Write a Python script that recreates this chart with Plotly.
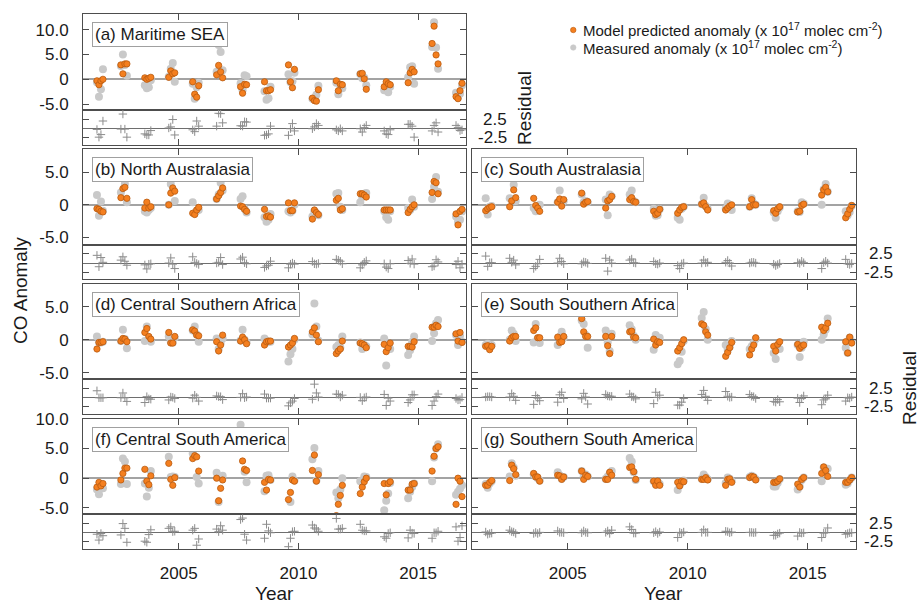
import plotly.graph_objects as go

# ---------------- data ----------------
years = list(range(2001, 2017))
months = [8, 9, 10, 11]          # Aug-Nov
x_ticks = [2005, 2010, 2015]
main_tickvals = [-5, 0, 5, 10]
main_ticktext = ["-5.0", "0", "5.0", "10.0"]
resid_tickvals = [-2.5, 2.5]
resid_ticktext = ["-2.5", "2.5"]

titles = ["(a) Maritime SEA", "(b) North Australasia", "(c) South Australasia",
          "(d) Central Southern Africa", "(e) South Southern Africa",
          "(f) Central South America", "(g) Southern South America"]
legend_labels = ["Model predicted anomaly (x 10<sup>17</sup> molec cm<sup>-2</sup>)",
                 "Measured anomaly (x 10<sup>17</sup> molec cm<sup>-2</sup>)"]

# model predicted anomaly, one row per year (Aug, Sep, Oct, Nov)
a_model = [[-0.3,-1.1,-0.3,0.0],[2.9,1.1,3.1,3.1],[0.3,0.0,0.2,0.4],[0.4,1.7,1.1,1.3],
           [-0.5,-3.0,-3.6,-1.3],[0.9,2.8,1.5,0.3],[-1.5,-2.8,-1.0,-1.1],[-0.5,-2.3,-2.3,-2.1],
           [2.9,-0.5,-1.7,2.0],[-3.8,-4.3,-4.4,-2.1],[-0.3,-2.3,-1.0,-1.1],[1.1,1.2,0.1,-2.0],
           [-1.5,-0.5,-0.9,-1.1],[-0.7,1.3,2.0,1.5],[7.2,10.7,4.9,3.1],[-3.5,-3.9,-2.3,-0.8]]
a_meas = [[-0.6,-3.5,-2.0,2.0],[2.7,5.0,2.9,0.7],[-1.2,-1.8,-1.6,-0.2],[0.5,2.1,3.3,-0.5],
          [-0.9,-3.9,-1.6,-0.7],[1.5,6.9,5.5,1.8],[-0.8,-2.2,0.8,0.6],[-2.4,-4.1,-3.8,-1.5],
          [1.0,-0.6,-0.4,1.3],[-3.9,-3.9,-3.1,-1.3],[-0.7,-3.0,-1.1,-1.8],[1.0,0.2,0.3,-1.2],
          [-2.2,-2.0,-2.6,-1.5],[0.4,2.4,2.6,-0.9],[6.5,11.5,6.4,2.1],[-2.7,-3.7,-2.9,-1.2]]
a_resid = [[-0.3,-2.4,-1.7,2.0],[-0.2,3.9,-0.2,-2.4],[-1.5,-1.8,-1.8,-0.6],[0.1,0.4,2.4,-1.8],
           [-0.4,-0.9,2.0,0.6],[0.6,4.1,4.0,1.5],[0.7,0.6,1.8,1.7],[-1.9,-1.8,-1.5,0.6],
           [-1.9,-0.1,1.3,-0.7],[-0.1,0.4,1.3,0.8],[-0.4,-0.7,-0.1,-0.7],[-0.1,-1.0,0.2,0.8],
           [-0.7,-1.5,-1.7,-0.4],[1.1,1.1,0.6,-2.4],[-0.7,0.8,1.5,-1.0],[0.8,0.2,-0.6,-0.4]]

b_model = [[-0.6,-0.7,-1.0,-1.1],[1.1,2.5,2.7,1.0],[-0.5,0.4,-0.5,-0.3],[0.0,1.8,2.6,2.1],
           [-1.3,-1.5,-0.8,-0.4],[0.9,1.4,1.9,2.6],[-0.2,-0.3,-0.7,-1.0],[-0.7,-1.8,-1.7,-1.9],
           [0.3,-0.9,-0.9,0.3],[-2.2,-0.8,-1.2,-1.5],[0.7,1.0,-0.8,-0.6],[1.7,1.7,1.5,1.2],
           [-0.8,-0.8,-0.8,-0.8],[-1.2,-0.7,-0.3,0.0],[1.9,3.6,3.4,1.7],[-1.4,-3.1,-1.0,-0.7]]
b_meas = [[1.5,-1.7,0.5,-0.9],[1.9,4.2,3.2,0.4],[-1.0,-1.2,-0.8,-0.5],[0.0,3.2,2.3,0.6],
          [0.4,-1.3,-0.9,-0.8],[0.9,1.6,3.4,2.2],[0.9,1.3,-0.6,-1.2],[-1.9,-2.6,-2.3,-1.4],
          [-1.0,-1.2,-0.9,0.0],[-1.8,-1.0,-1.5,-1.6],[1.7,1.8,-0.3,-0.8],[0.4,1.2,1.7,1.8],
          [-1.0,-1.9,-2.3,-1.0],[-0.5,-0.8,0.8,-0.3],[0.9,2.8,4.3,2.0],[-1.8,-2.6,-2.3,-1.0]]
b_resid = [[2.1,-1.0,1.5,0.2],[0.8,1.7,0.5,-0.6],[-0.5,-1.6,-0.3,-0.2],[0.0,1.4,-0.3,-1.5],
           [1.7,0.2,-0.1,-0.4],[0.0,0.2,1.5,-0.4],[1.1,1.6,0.1,-0.2],[-1.2,-0.8,-0.6,0.5],
           [-1.3,-0.3,0.0,-0.3],[0.4,-0.2,-0.3,-0.1],[1.0,0.8,0.5,-0.2],[-1.3,-0.5,0.2,0.6],
           [-0.2,-1.1,-1.5,-0.2],[0.7,-0.1,1.1,-0.3],[-1.0,-0.8,0.9,0.3],[-0.4,0.5,-1.3,-0.3]]

c_model = [[-0.9,-0.6,-0.4,-0.3],[-0.3,0.6,2.3,1.1],[1.0,-0.1,-0.5,-1.0],[0.4,0.9,-0.2,0.8],
           [1.8,0.1,0.4,0.5],[-0.5,0.6,0.8,1.3],[0.8,1.1,0.5,0.4],[-1.0,-1.5,-1.3,-0.7],
           [-1.3,-0.8,-0.4,-0.3],[0.1,0.3,-0.3,-0.8],[-0.8,-0.5,-0.2,0.0],[-0.3,0.8,0.0,0.0],
           [-0.9,-1.3,-0.6,-0.3],[-1.1,-1.0,-0.1,0.1],[1.5,2.3,2.7,2.0],[-2.0,-1.4,-0.7,-0.1]]
c_meas = [[1.0,-1.5,-0.3,-0.2],[1.0,0.8,3.1,0.6],[-0.5,-1.0,-0.7,0.0],[0.4,2.2,0.2,0.6],
          [1.6,0.4,0.6,0.4],[0.8,-1.6,1.6,1.3],[1.6,2.2,0.6,0.4],[-0.6,-1.7,-1.6,-0.7],
          [-2.0,-2.3,-0.6,-0.3],[0.1,1.1,-0.2,-0.6],[-0.6,0.2,-0.2,-0.8],[-0.3,1.0,0.2,0.0],
          [-1.2,-2.0,-1.0,-0.4],[-1.0,-1.1,0.4,0.2],[0.0,2.4,3.2,2.0],[-1.0,-1.6,-1.1,-0.2]]
c_resid = [[1.9,-0.9,0.1,0.1],[1.3,0.2,0.8,-0.5],[-1.5,-0.9,-0.2,1.0],[0.0,1.3,0.4,-0.2],
           [-0.2,0.3,0.2,-0.1],[1.3,-2.2,0.8,0.0],[0.8,1.1,0.1,0.0],[0.4,-0.2,-0.3,0.0],
           [-0.7,-1.5,-0.2,0.0],[0.0,0.8,0.1,0.2],[0.2,0.7,0.0,-0.8],[0.0,0.2,0.2,0.0],
           [-0.3,-0.7,-0.4,-0.1],[0.1,-0.1,0.5,0.1],[-1.5,0.1,0.5,0.0],[1.0,-0.2,-0.4,-0.1]]

d_model = [[-1.4,-0.4,-0.4,-0.3],[-0.2,0.2,0.1,-0.3],[1.1,1.7,0.5,0.1],[1.1,-0.5,-0.5,0.5],
           [1.5,1.3,0.7,0.6],[-0.3,-1.7,-0.8,0.7],[-0.2,0.4,0.0,-0.6],[-0.8,-0.3,-0.2,-0.2],
           [-1.1,-0.8,-0.5,0.2],[1.2,1.8,0.7,-0.3],[-2.1,-1.7,-1.4,-0.2],[-0.5,-0.6,-0.8,-1.2],
           [-0.7,-1.8,-1.2,-0.5],[-1.0,-1.0,-1.1,-0.3],[1.9,1.9,2.2,2.0],[0.9,-0.2,1.1,-0.4]]
d_meas = [[0.5,-0.4,-0.4,-0.3],[-0.2,1.5,0.1,-1.3],[-0.2,2.0,0.2,-0.3],[0.5,-0.3,-0.4,0.3],
          [1.4,2.0,0.8,-0.3],[0.2,-1.4,-0.5,0.2],[-0.1,1.5,0.0,-0.4],[0.2,-0.4,-0.3,-0.3],
          [-3.3,-2.2,-1.4,0.0],[0.8,5.5,2.0,-0.1],[-1.1,-0.8,-1.2,0.5],[-0.4,-1.4,-0.8,-1.0],
          [0.2,-3.9,-1.3,-1.4],[-2.3,-1.6,-0.3,0.5],[-0.2,1.0,2.5,3.0],[0.7,-0.8,0.6,-0.3]]
d_resid = [[1.9,0.0,0.0,0.0],[0.0,1.3,0.0,-1.0],[-1.3,0.3,-0.3,-0.4],[-0.6,0.2,0.1,-0.2],
           [-0.1,0.7,0.1,-0.9],[0.5,0.3,0.3,-0.5],[0.1,1.1,0.0,0.2],[1.0,-0.1,-0.1,-0.1],
           [-2.2,-1.4,-0.9,-0.2],[-0.4,3.7,1.3,0.2],[1.0,0.9,0.2,0.7],[0.1,-0.8,0.0,0.2],
           [0.9,-2.1,-0.1,-0.9],[-1.3,-0.6,0.8,0.8],[-2.1,-0.9,0.3,1.0],[-0.2,-0.6,-0.5,0.1]]

e_model = [[-1.0,-0.9,-1.5,-1.0],[-0.2,0.3,0.5,0.5],[1.4,1.8,0.3,0.3],[0.4,-0.4,-0.3,0.5],
           [3.2,1.2,0.5,0.5],[0.5,-0.9,-2.1,0.5],[1.2,1.3,0.4,0.3],[0.1,-0.8,-0.3,-0.4],
           [-1.7,-1.2,-0.6,0.0],[2.4,2.2,1.2,0.7],[-2.5,-1.9,-1.2,-0.4],[-2.3,-1.4,-0.8,0.3],
           [-1.0,-1.7,-0.7,-0.3],[-0.7,-1.3,-1.0,-0.8],[1.9,1.4,1.8,2.5],[-0.3,-2.0,0.4,-0.5]]
e_meas = [[-0.8,-0.6,-1.2,-0.8],[0.0,1.4,0.9,-0.2],[-0.4,2.4,0.2,-0.5],[-0.8,0.4,1.2,0.3],
          [2.9,2.4,0.7,-1.2],[1.4,-0.4,-1.7,0.9],[2.2,1.6,0.6,0.0],[-1.5,0.7,-0.2,0.3],
          [-3.7,-3.2,-1.8,-0.2],[3.3,4.2,1.6,0.0],[-0.8,-1.5,-1.1,-0.2],[-1.4,-1.0,-0.5,0.1],
          [-2.0,-2.9,-1.2,-1.4],[-0.8,-2.6,-1.2,-0.3],[0.0,0.8,1.5,3.2],[-1.2,-2.0,0.3,-0.3]]
e_resid = [[0.2,0.3,0.3,0.2],[0.2,1.1,0.4,-0.7],[-1.8,0.6,-0.1,-0.8],[-1.2,0.8,1.5,-0.2],
           [-0.3,1.2,0.2,-1.7],[0.9,0.5,0.4,0.4],[1.0,0.3,0.2,-0.3],[-1.6,1.5,0.1,0.7],
           [-2.0,-2.0,-1.2,-0.2],[0.9,2.0,0.4,-0.7],[1.7,0.4,0.1,0.2],[0.9,0.4,0.3,-0.2],
           [-1.0,-1.2,-0.5,-1.1],[-0.1,-1.3,-0.2,0.5],[-1.9,-0.6,-0.3,0.7],[-0.9,0.0,-0.1,0.2]]

f_model = [[-1.5,-0.7,-1.3,-0.9],[-0.3,0.8,1.7,1.7],[1.5,-0.5,-1.1,0.4],[2.5,-0.2,-1.2,0.1],
           [3.3,3.8,3.6,1.2],[0.0,-3.8,-1.7,-0.3],[5.4,2.9,1.5,1.3],[-0.7,-2.0,-0.2,-0.3],
           [-3.6,-2.4,-0.3,-0.5],[1.3,3.9,-0.5,0.6],[-6.3,-4.4,-2.9,-1.2],[-2.6,-1.5,-0.6,0.0],
           [-0.9,-2.8,-0.9,-0.6],[-2.0,-2.0,-1.0,-0.9],[1.2,3.7,5.0,5.3],[-4.4,0.0,-0.5,-3.1]]
f_meas = [[-1.9,-2.7,-1.5,-1.7],[-1.0,3.3,2.8,-1.0],[-0.9,-3.1,-1.6,1.2],[3.6,0.2,0.3,0.2],
          [4.2,5.1,0.2,-0.9],[0.9,-4.0,0.2,0.4],[9.0,6.9,1.1,-0.7],[-2.2,0.4,0.5,-0.3],
          [-7.4,-4.0,0.3,-0.4],[3.2,5.1,-0.4,1.2],[-2.4,-3.4,-1.9,0.0],[-0.5,-0.8,0.3,0.2],
          [-5.4,-3.8,-2.6,-0.8],[-3.4,-2.3,-1.5,-0.9],[-0.5,3.5,5.0,5.7],[-2.8,-2.3,-1.8,-1.2]]
f_resid = [[-0.4,-2.0,-0.2,-0.8],[-0.6,2.5,1.2,-2.6],[-2.3,-2.6,-0.5,0.8],[1.2,1.6,0.3,0.4],
           [0.7,1.2,-3.4,-1.7],[1.0,0.3,1.9,0.7],[3.6,4.0,-0.4,-2.0],[-1.5,2.3,0.5,0.0],
           [-3.8,-1.5,0.3,0.4],[2.1,1.3,1.0,0.4],[3.9,1.0,1.0,1.2],[2.3,0.7,0.5,0.5],
           [-1.1,-1.5,-0.2,0.0],[-1.4,0.7,-0.1,-0.2],[-1.5,0.0,0.0,0.4],[1.6,-2.3,-1.3,1.9]]

g_model = [[-1.2,-1.2,-0.7,-0.4],[-0.4,2.2,1.6,0.6],[0.8,0.2,0.2,-0.5],[0.5,0.4,-0.2,0.2],
           [1.2,-0.2,0.5,0.3],[-0.2,-0.2,1.0,0.5],[1.8,1.9,1.1,-0.2],[-0.5,-1.2,-0.5,-1.2],
           [-0.7,-1.3,-0.5,-0.6],[-0.2,-0.2,0.1,-0.3],[-1.2,-0.2,-0.1,-0.7],[0.1,0.3,0.2,-0.3],
           [-0.7,-0.7,-0.5,-0.1],[-1.0,-1.5,-0.2,0.1],[0.8,1.9,1.3,0.3],[-0.7,-0.7,-0.3,0.1]]
g_meas = [[-1.0,-1.6,-0.9,-0.5],[0.3,2.5,1.8,0.4],[0.6,0.3,0.0,-0.4],[1.0,0.5,-0.1,0.2],
          [1.2,0.3,0.6,0.3],[-0.1,0.3,0.8,1.2],[3.4,2.8,1.0,-0.3],[-0.5,-0.9,-0.7,-1.0],
          [-2.0,-1.2,-0.6,-0.4],[-0.1,0.6,0.2,-0.2],[-0.8,0.1,-0.1,-0.5],[0.2,0.4,0.2,-0.2],
          [-1.4,-1.4,-0.8,-0.2],[-1.9,-1.4,-0.3,0.1],[-0.5,1.8,1.3,1.6],[-1.1,-0.9,-0.3,0.1]]
g_resid = [[0.2,-0.4,-0.2,-0.1],[0.7,0.3,0.2,-0.2],[-0.2,0.1,-0.2,0.1],[0.5,0.1,0.1,0.0],
           [0.0,0.5,0.1,0.0],[0.1,0.5,-0.2,0.7],[1.6,0.9,-0.1,-0.1],[0.0,0.3,-0.2,0.2],
           [-1.3,0.1,-0.1,0.2],[0.1,0.8,0.1,0.1],[0.4,0.3,0.0,0.2],[0.1,0.1,0.0,0.1],
           [-0.7,-0.7,-0.3,-0.1],[-0.9,0.1,-0.1,0.0],[-1.3,-0.1,0.0,1.3],[-0.4,-0.2,0.0,0.0]]

# ---------------- layout geometry (pixels) ----------------
W, H = 922, 603
def px(x): return x / W
def py(y): return 1 - y / H

col_x = [(83, 466), (471.7, 855.7)]
row_top = [14.3, 149.0, 283.7, 418.7]
main_h, res_h = 95.7, 34.5
main_ranges = [[-6.18, 13.08], [-6.15, 8.6], [-6.0, 8.48], [-6.1, 10.02]]
res_range = [-4.4, 5.0]
x_range = [2001, 2017]

panels = [  # (model, measured, residual, row, col)
    (a_model, a_meas, a_resid, 0, 0),
    (b_model, b_meas, b_resid, 1, 0),
    (c_model, c_meas, c_resid, 1, 1),
    (d_model, d_meas, d_resid, 2, 0),
    (e_model, e_meas, e_resid, 2, 1),
    (f_model, f_meas, f_resid, 3, 0),
    (g_model, g_meas, g_resid, 3, 1),
]

def flat(v):
    return [z for row in v for z in row]

xs = [yr + (m - 1) / 12 for yr in years for m in months]

FONT = "Liberation Sans, Arial, Helvetica, sans-serif"
LINEC = "#4d4d4d"
ORANGE = "#f47f1f"
ORANGE_EDGE = "#b85a10"
GRAY = "#c9c9c9"
RESC = "#8c8c8c"

def key(ax, k):
    return f"{ax}axis" if k == 1 else f"{ax}axis{k}"

def ref(ax, k):
    return ax if k == 1 else f"{ax}{k}"

fig = go.Figure()
layout = {}
annotations = []

for i, (model, meas, resid, r, c) in enumerate(panels):
    km, kr = 2 * i + 1, 2 * i + 2
    x0, x1 = col_x[c]
    top = row_top[r]

    fig.add_trace(go.Scatter(
        x=xs, y=flat(meas), mode="markers", xaxis=ref("x", km), yaxis=ref("y", km),
        marker=dict(size=8, color=GRAY, line=dict(width=0)),
        name="Measured anomaly", showlegend=False))
    fig.add_trace(go.Scatter(
        x=xs, y=flat(model), mode="markers", xaxis=ref("x", km), yaxis=ref("y", km),
        marker=dict(size=6.3, color=ORANGE, line=dict(width=0.8, color=ORANGE_EDGE)),
        name="Model predicted anomaly", showlegend=False))
    fig.add_trace(go.Scatter(
        x=xs, y=flat(resid), mode="markers", xaxis=ref("x", kr), yaxis=ref("y", kr),
        marker=dict(symbol="cross-thin", size=6, color=RESC, line=dict(width=1, color=RESC)),
        showlegend=False, name="Residual"))

    common_x = dict(domain=[px(x0), px(x1)], range=x_range, tickvals=x_ticks,
                    ticks="inside", ticklen=6, tickcolor=LINEC, showline=True,
                    linecolor=LINEC, linewidth=1, mirror=True, showgrid=False,
                    zeroline=False, automargin=False)
    layout[key("x", km)] = dict(common_x, anchor=ref("y", km), side="top",
                                showticklabels=False)
    layout[key("x", kr)] = dict(common_x, anchor=ref("y", kr), side="bottom",
                                showticklabels=(r == 3), ticklabelstandoff=9,
                                tickfont=dict(size=17))
    layout[key("y", km)] = dict(
        domain=[py(top + main_h), py(top)], anchor=ref("x", km), range=main_ranges[r],
        tickvals=main_tickvals, ticktext=main_ticktext, ticks="inside", ticklen=6,
        tickcolor=LINEC, showline=True, linecolor=LINEC, linewidth=1, mirror="ticks",
        showgrid=False, zeroline=True, zerolinecolor="#a3a3a3", zerolinewidth=1.8,
        showticklabels=(c == 0), ticklabelstandoff=10, tickfont=dict(size=17),
        automargin=False)
    layout[key("y", kr)] = dict(
        domain=[py(top + main_h + res_h), py(top + main_h)], anchor=ref("x", kr),
        range=res_range, tickvals=resid_tickvals, ticks="inside", ticklen=6,
        tickcolor=LINEC, showline=True, linecolor=LINEC, linewidth=1, mirror="ticks",
        showgrid=False, zeroline=True, zerolinecolor="#6e6e6e", zerolinewidth=1,
        showticklabels=False, automargin=False)

    # panel title box
    annotations.append(dict(
        text=titles[i], xref="paper", yref="paper", x=px(x0 + 9), y=py(top + 8),
        xanchor="left", yanchor="top", showarrow=False, font=dict(size=17),
        bgcolor="white", bordercolor="#a0a0a0", borderwidth=1, borderpad=2))

    # residual tick labels on the right side
    if c == 1 or r == 0:
        lx = 895 if c == 1 else 509
        for tv, tt in zip(resid_tickvals, resid_ticktext):
            annotations.append(dict(
                text=tt, xref="paper", yref=ref("y", kr), x=px(lx), y=tv,
                xanchor="right", yanchor="middle", showarrow=False, font=dict(size=17)))

def center_note(text, x, y, size=19, angle=0):
    return dict(text=text, xref="paper", yref="paper", x=px(x), y=py(y),
                xanchor="center", yanchor="middle", textangle=angle,
                showarrow=False, font=dict(size=size))

annotations += [
    center_note("CO Anomaly", 20, 291, angle=-90),
    center_note("Residual", 525, 108, angle=-90),
    center_note("Residual", 909, 388, angle=-90),
    center_note("Year", 274.5, 593),
    center_note("Year", 663.7, 593),
]

# legend (drawn manually: small symbol + label)
legend_y = [30, 47.5]
legend_colors = [(ORANGE, ORANGE_EDGE), (GRAY, GRAY)]
shapes = []
for lab, ly, (fc, lc) in zip(legend_labels, legend_y, legend_colors):
    shapes.append(dict(type="circle", xref="paper", yref="paper",
                       x0=px(570.5), x1=px(576), y0=py(ly + 2.75), y1=py(ly - 2.75),
                       fillcolor=fc, line=dict(color=lc, width=0.6)))
    annotations.append(dict(text=lab, xref="paper", yref="paper", x=px(581), y=py(ly),
                            xanchor="left", yanchor="middle", showarrow=False,
                            font=dict(size=15)))

fig.update_layout(
    width=W, height=H, margin=dict(l=0, r=0, t=0, b=0, autoexpand=False),
    paper_bgcolor="white", plot_bgcolor="white",
    font=dict(family=FONT, size=17, color="#1a1a1a"),
    showlegend=False,
    annotations=annotations,
    shapes=shapes,
    **layout)

fig.write_html("out.html")
